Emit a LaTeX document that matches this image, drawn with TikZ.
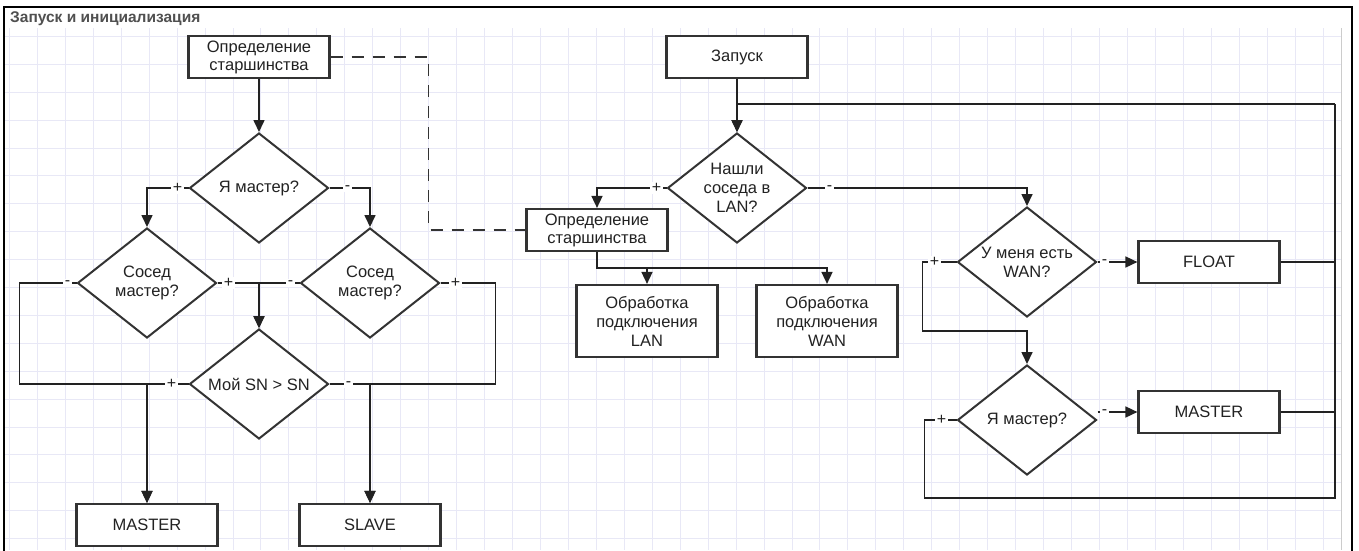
\documentclass[tikz,border=0pt]{standalone}
\usepackage{fontspec}
\setmainfont{Liberation Sans}
\usetikzlibrary{shapes.geometric,arrows.meta,calc}
\definecolor{ln}{HTML}{222222}
\definecolor{bx}{HTML}{333333}
\definecolor{gridc}{HTML}{E8E8F6}
\definecolor{ttl}{HTML}{505050}
\begin{document}
\begin{tikzpicture}[x=1pt,y=-1pt,
 box/.style={draw=bx,line width=2.2pt,fill=white,minimum width=141pt,minimum height=42pt,inner sep=0pt,font=\fontsize{16.5}{18}\selectfont,align=center,text=ln},
 tallbox/.style={box,minimum height=72pt,font=\fontsize{16.5}{19}\selectfont},
 dia/.style={draw=bx,line width=2pt,fill=white,shape=diamond,minimum width=139pt,minimum height=110pt,inner sep=0pt},
 dtxt/.style={font=\fontsize{16.5}{19}\selectfont,align=center,text=ln},
 con/.style={draw=ln,line width=1.6pt},
 arr/.style={con,-{Triangle[length=12pt,width=11pt]}},
 lbl/.style={fill=white,inner sep=1.5pt,font=\fontsize{16}{16}\selectfont,text=ln},
 dsh/.style={draw=bx,line width=1.6pt,dash pattern=on 12pt off 9pt}
]
\useasboundingbox (0,0) rectangle (1359,550);
\fill[white] (0,0) rectangle (1359,550);
% grid
\foreach \i in {0,...,47} {\draw[gridc,line width=0.8pt] ({9.3+27.95*\i},28) -- ({9.3+27.95*\i},550);}
\foreach \j in {0,...,18} {\draw[gridc,line width=0.8pt] (5,{36.3+27.9*\j}) -- (1341,{36.3+27.9*\j});}
\draw[gray!40,line width=0.8pt] (1341,28) -- (1341,550);
% frame
\draw[black,line width=2.5pt] (4,560) -- (4,7) -- (1352,7) -- (1352,560);
\node[anchor=west,inner sep=0pt,font=\fontsize{15.5}{15.5}\selectfont\bfseries,text=ttl] (title) at (10,19) {Запуск и инициализация};

% left block
\node[box] (top) at (259,57) {Определение\\старшинства};
\node[dia] (d1) at (259,188) {}; \node[dtxt] at (d1) {Я мастер?};
\node[dia] (d2) at (147,283) {}; \node[dtxt] at (d2) {Сосед\\мастер?};
\node[dia] (d3) at (370,283) {}; \node[dtxt] at (d3) {Сосед\\мастер?};
\node[dia] (d4) at (259,384) {}; \node[dtxt] at (d4) {Мой SN > SN};
\node[box] (m1) at (147,525) {MASTER};
\node[box] (sl) at (370,525) {SLAVE};

% middle block
\node[box] (zap) at (737,57) {Запуск};
\node[dia] (n) at (737,188) {}; \node[dtxt] at (n) {Нашли\\соседа в\\LAN?};
\node[box] (mid) at (597,230) {Определение\\старшинства};
\node[tallbox] (lan) at (647,321) {Обработка\\подключения\\LAN};
\node[tallbox] (wan) at (827,321) {Обработка\\подключения\\WAN};

% right block
\node[dia] (w) at (1027,262) {}; \node[dtxt] at (w) {У меня есть\\WAN?};
\node[box] (fl) at (1209,262) {FLOAT};
\node[dia] (rm) at (1027,420) {}; \node[dtxt] at (rm) {Я мастер?};
\node[box] (m2) at (1209,412) {MASTER};

\coordinate (rx) at (1335,104);
\coordinate (rb) at (1335,498);

% connectors left
\draw[arr] (top.south) -- (d1.north);
\draw[arr] (d1.west) -| (d2.north);
\draw[arr] (d1.east) -| (d3.north);
\draw[arr] (d2.east) -| (d4.north);
\draw[arr] (d3.west) -| (d4.north);
\draw[arr] (d2.west) -- ++(-57,0) |- (m1.north |- d4.west) -- (m1.north);
\draw[arr] (d4.west) -| (m1.north);
\draw[arr] (d3.east) -- ++(55,0) |- (sl.north |- d4.east) -- (sl.north);
\draw[arr] (d4.east) -| (sl.north);
\draw[dsh] (top.east) -- ++(98,0) |- (mid.west);

% connectors middle
\draw[arr] (zap.south) -- (n.north);
\draw[arr] (n.west) -| (mid.north);
\draw[arr] (mid.south) -- ++(0,16) -| (lan.north);
\draw[arr] (mid.south) -- ++(0,16) -| (wan.north);
\draw[arr] (n.east) -| (w.north);

% connectors right
\draw[arr] (w.east) -- (fl.west);
\draw[arr] (w.west) -- ++(-34,0) -- ++(0,69) -| (rm.north);
\draw[arr] (rm.east |- m2.west) -- (m2.west);
\draw[con] (fl.east) -| (rx);
\draw[con] (m2.east) -| (rx);
\draw[con] (rm.west) -- ++(-32,0) |- (rb) -- (rx);
\draw[arr] (rx) -| (n.north);

% labels
\node[lbl] at ([xshift=-11pt]d1.west) {+};
\node[lbl] at ([xshift=18pt]d1.east) {-};
\node[lbl] at ([xshift=-9pt]d2.west) {-};
\node[lbl] at ([xshift=11pt]d2.east) {+};
\node[lbl] at ([xshift=-9pt]d3.west) {-};
\node[lbl] at ([xshift=15pt]d3.east) {+};
\node[lbl] at ([xshift=-17pt]d4.west) {+};
\node[lbl] at ([xshift=19pt]d4.east) {-};
\node[lbl] at ([xshift=-10pt]n.west) {+};
\node[lbl] at ([xshift=22pt]n.east) {-};
\node[lbl] at ([xshift=-22pt]w.west) {+};
\node[lbl] at ([xshift=7pt]w.east) {-};
\node[lbl] at ([xshift=-15pt]rm.west) {+};
\node[lbl] at ($(rm.east |- m2.west)+(7,0)$) {-};
\end{tikzpicture}
\end{document}
